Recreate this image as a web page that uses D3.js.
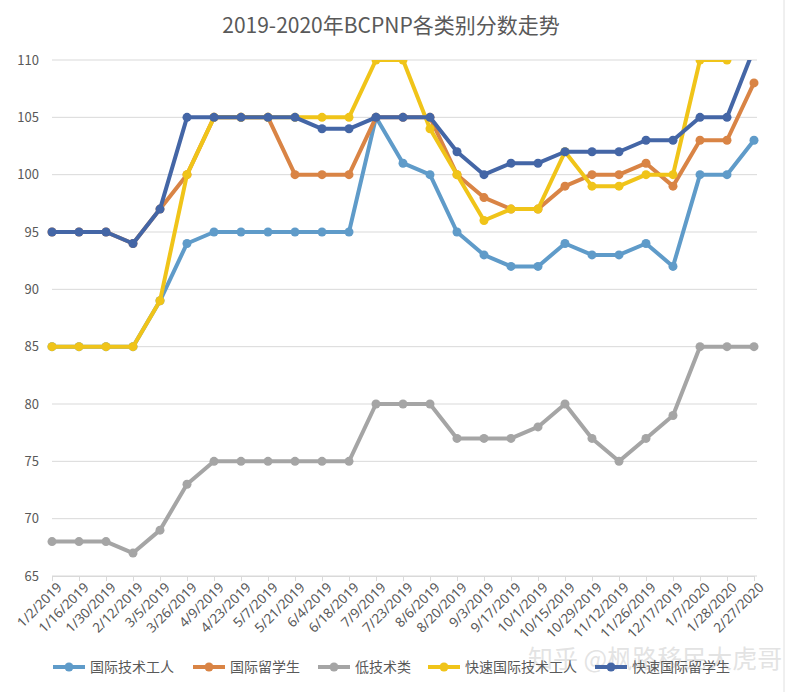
<!DOCTYPE html>
<html><head><meta charset="utf-8">
<script src="https://cdn.jsdelivr.net/npm/d3@7"></script>
<style>body{margin:0;background:#fff;font-family:"Noto Sans CJK SC","Noto Sans",sans-serif;}</style>
</head><body><svg id="c" width="788" height="692"></svg>
<script>
const categories = ["1/2/2019","1/16/2019","1/30/2019","2/12/2019","3/5/2019","3/26/2019","4/9/2019","4/23/2019","5/7/2019","5/21/2019","6/4/2019","6/18/2019","7/9/2019","7/23/2019","8/6/2019","8/20/2019","9/3/2019","9/17/2019","10/1/2019","10/15/2019","10/29/2019","11/12/2019","11/26/2019","12/17/2019","1/7/2020","1/28/2020","2/27/2020"];
const skilledWorker   = [85,85,85,85,89,94,95,95,95,95,95,95,105,101,100,95,93,92,92,94,93,93,94,92,100,100,103];
const intlGraduate    = [95,95,95,94,97,100,105,105,105,100,100,100,105,105,105,100,98,97,97,99,100,100,101,99,103,103,108];
const entryLevel      = [68,68,68,67,69,73,75,75,75,75,75,75,80,80,80,77,77,77,78,80,77,75,77,79,85,85,85];
const eeSkilledWorker = [85,85,85,85,89,100,105,105,105,105,105,105,110,110,104,100,96,97,97,102,99,99,100,100,110,110,null];
const eeIntlGraduate  = [95,95,95,94,97,105,105,105,105,105,104,104,105,105,105,102,100,101,101,102,102,102,103,103,105,105,111];
const yTicks = [65,70,75,80,85,90,95,100,105,110];
const seriesNames = ["国际技术工人","国际留学生","低技术类","快速国际技术工人","快速国际留学生"];
const seriesColors = ["#5f9bc9","#d98445","#a5a5a5","#f0c419","#4466a6"];
const seriesData = [skilledWorker,intlGraduate,entryLevel,eeSkilledWorker,eeIntlGraduate];

const svg = d3.select("#c");
const L=52, R=754, T=60, B=576;
const x = d3.scalePoint().domain(categories).range([L,R]).padding(0);
const y = d3.scaleLinear().domain([65,110]).range([B,T]);

svg.append("text").attr("x",391).attr("y",33).attr("text-anchor","middle")
  .attr("font-size",21).attr("fill","#595959").text("2019-2020年BCPNP各类别分数走势");

// grid
svg.append("g").selectAll("line").data(yTicks).join("line")
  .attr("x1",L).attr("x2",757).attr("y1",d=>y(d)).attr("y2",d=>y(d))
  .attr("stroke","#d9d9d9").attr("stroke-width",1);
svg.append("g").selectAll("text").data(yTicks).join("text")
  .attr("x",39).attr("y",d=>y(d)+4.5).attr("text-anchor","end")
  .attr("font-size",13).attr("fill","#595959").text(d=>d);

// x axis
const xa = svg.append("g").attr("transform",`translate(0,${B})`)
  .call(d3.axisBottom(x).tickSizeOuter(0).tickSizeInner(5).tickPadding(4));
xa.select(".domain").attr("stroke","#d9d9d9");
xa.selectAll(".tick line").attr("stroke","#d9d9d9");
xa.selectAll(".tick text").attr("font-size",13.5).attr("fill","#595959")
  .attr("font-family","Noto Sans, sans-serif")
  .attr("text-anchor","end").attr("dy","0.3em").attr("dx","0.1em")
  .attr("transform","translate(0,4) rotate(-45)");

svg.append("defs").append("clipPath").attr("id","pc").append("rect")
  .attr("x",0).attr("y",T).attr("width",788).attr("height",B-T+10);

const line = d3.line().defined(d=>d.v!=null).x(d=>x(d.c)).y(d=>y(d.v));
const plot = svg.append("g").attr("clip-path","url(#pc)");
seriesData.forEach((arr,i)=>{
  const pts = arr.map((v,j)=>({c:categories[j],v}));
  const g = plot.append("g");
  g.append("path").datum(pts).attr("d",line).attr("fill","none")
    .attr("stroke",seriesColors[i]).attr("stroke-width",4).attr("stroke-linejoin","round");
  g.selectAll("circle").data(pts.filter(d=>d.v!=null && d.v<=110)).join("circle")
    .attr("cx",d=>x(d.c)).attr("cy",d=>y(d.v)).attr("r",4.5).attr("fill",seriesColors[i]);
});

// watermark (behind legend)
svg.append("text").attr("x",528).attr("y",668).attr("font-size",25)
  .attr("fill","#d0d0d0").attr("fill-opacity",0.6).text("知乎 @枫路移民大虎哥");

// legend
const legX = [53,193,318,428,595];
const leg = svg.append("g");
seriesNames.forEach((n,i)=>{
  const g = leg.append("g").attr("transform",`translate(${legX[i]},667)`);
  g.append("line").attr("x1",0).attr("x2",32).attr("y1",0).attr("y2",0)
    .attr("stroke",seriesColors[i]).attr("stroke-width",4);
  g.append("circle").attr("cx",16).attr("cy",0).attr("r",4.5).attr("fill",seriesColors[i]);
  g.append("text").attr("x",37).attr("y",5).attr("font-size",14).attr("fill","#595959").text(n);
});

svg.append("line").attr("x1",784).attr("x2",784).attr("y1",0).attr("y2",692)
  .attr("stroke","#e0e0e0");
</script></body></html>
